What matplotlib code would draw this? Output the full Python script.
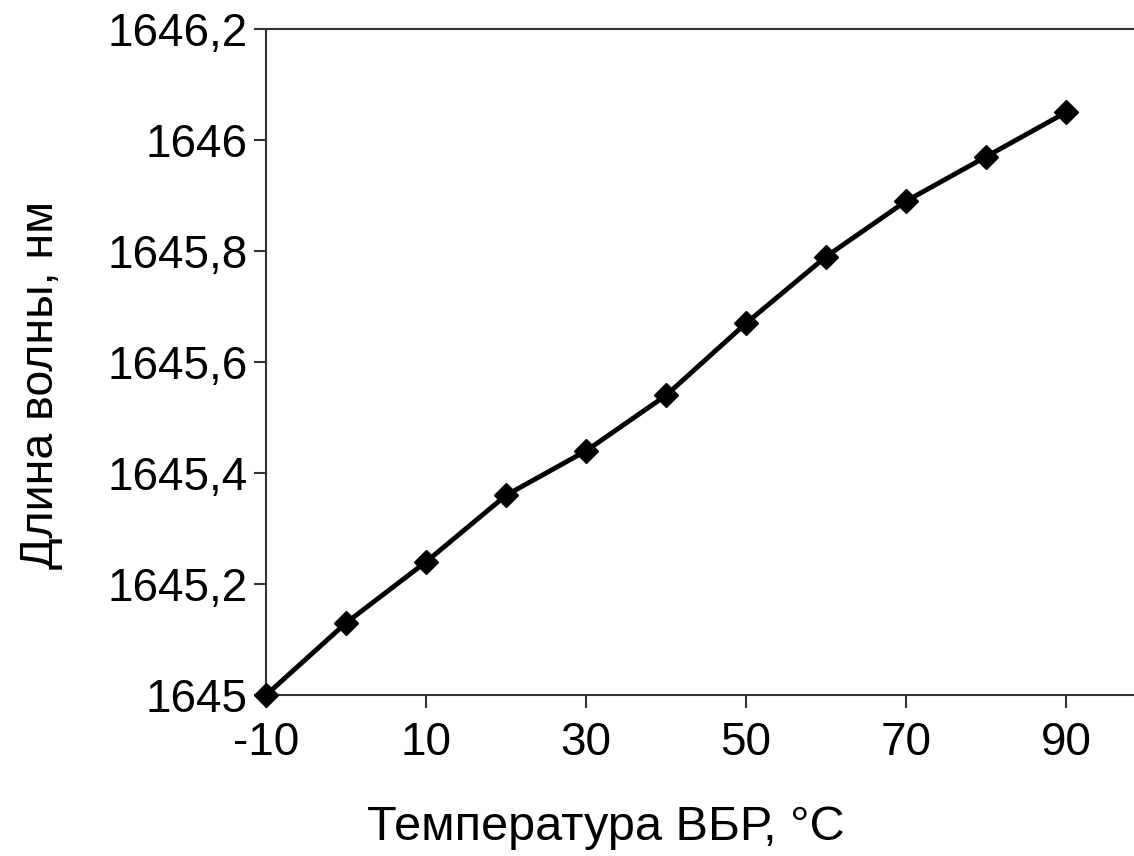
import matplotlib.pyplot as plt
from matplotlib.ticker import FixedLocator, FuncFormatter

plt.rcParams['font.family'] = ['Liberation Sans', 'DejaVu Sans']

temperature = [-10, 0, 10, 20, 30, 40, 50, 60, 70, 80, 90]
wavelength = [1645.00, 1645.13, 1645.24, 1645.36, 1645.44, 1645.54,
              1645.67, 1645.79, 1645.89, 1645.97, 1646.05]
x_ticks = [-10, 10, 30, 50, 70, 90]
y_ticks = [1645.0, 1645.2, 1645.4, 1645.6, 1645.8, 1646.0, 1646.2]


def comma_fmt(v, pos):
    s = ('%.1f' % v).rstrip('0').rstrip('.')
    return s.replace('.', ',')


fig = plt.figure(figsize=(11.34, 8.56), dpi=100)
ax = fig.add_axes([0.2346, 0.188, 0.7654, 0.778])
ax.plot(temperature, wavelength, color='black', linewidth=3.5,
        marker='D', markersize=12, clip_on=False, zorder=3)

ax.set_xlim(-10, 98.5)
ax.set_ylim(1645.0, 1646.2)
ax.xaxis.set_major_locator(FixedLocator(x_ticks))
ax.yaxis.set_major_locator(FixedLocator(y_ticks))
ax.yaxis.set_major_formatter(FuncFormatter(comma_fmt))
ax.xaxis.set_major_formatter(FuncFormatter(comma_fmt))

ax.spines['right'].set_visible(False)
for s in ['left', 'bottom', 'top']:
    ax.spines[s].set_linewidth(1.5)
    ax.spines[s].set_color('#333333')
ax.tick_params(direction='out', length=9, width=1.5, color='#333333',
               labelsize=33)
ax.tick_params(axis='x', pad=10)
ax.tick_params(axis='y', pad=4)

ax.set_xlabel('Температура ВБР, °C', fontsize=35)
ax.set_ylabel('Длина волны, нм', fontsize=33.5)
# the labels in the original sit off-centre
ax.xaxis.set_label_coords(0.392, -0.165)
ax.yaxis.set_label_coords(-0.234, 0.465)

fig.savefig('out.png', dpi=100)
